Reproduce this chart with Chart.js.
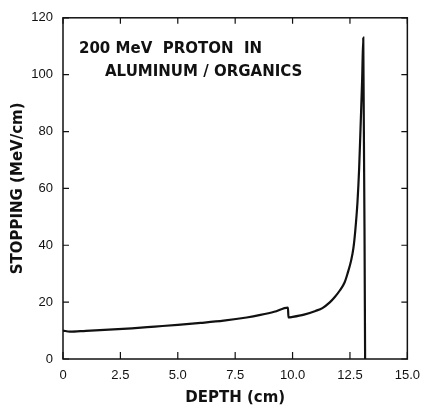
<!DOCTYPE html>
<html>
<head>
<meta charset="utf-8">
<script src="https://cdn.jsdelivr.net/npm/chart.js@4.4.1/dist/chart.umd.min.js"></script>
<style>
  html, body { margin: 0; padding: 0; background: #fff; }
  #wrap { width: 429px; height: 409px; }
</style>
</head>
<body>
<div id="wrap"><canvas id="stopChart"></canvas></div>
<script>
/* Bragg curve: 200 MeV proton in aluminum / organics */
const depthCm     = [0, 0.3, 1, 2, 3, 4, 5, 6, 7, 8, 8.6, 9.2, 9.8, 9.82, 10, 10.5, 11, 11.3, 11.62, 11.84, 12.05, 12.27, 12.4, 12.55, 12.65, 12.73, 12.83, 12.9, 12.97, 13.03, 13.08, 13.16];
const stoppingMeV = [10, 9.6, 9.9, 10.3, 10.8, 11.4, 12.0, 12.7, 13.5, 14.6, 15.5, 16.6, 18.1, 14.6, 14.8, 15.6, 16.9, 17.9, 19.9, 21.8, 24.0, 27.0, 30.2, 34.6, 39, 45, 55.5, 67, 83.4, 98, 113, 0];

const xTicks = [0, 2.5, 5, 7.5, 10, 12.5, 15];
const yTicks = [0, 20, 40, 60, 80, 100, 120];
const noteLines = ['200 MeV  PROTON  IN', 'ALUMINUM / ORGANICS'];

const INK = '#111';

/** Box around plot area plus inward tick marks on all four sides */
const frameTicks = {
  id: 'frameTicks',
  afterDraw(chart) {
    const { ctx, chartArea: a, scales: { x, y } } = chart;
    ctx.save();
    ctx.strokeStyle = INK;
    ctx.lineWidth = 1.5;
    ctx.strokeRect(a.left, a.top, a.right - a.left, a.bottom - a.top);
    ctx.lineWidth = 1.2;
    ctx.beginPath();
    xTicks.forEach(v => {
      const px = x.getPixelForValue(v);
      ctx.moveTo(px, a.bottom); ctx.lineTo(px, a.bottom - 7);
      ctx.moveTo(px, a.top);    ctx.lineTo(px, a.top + 6);
    });
    yTicks.forEach(v => {
      const py = y.getPixelForValue(v);
      ctx.moveTo(a.left, py);  ctx.lineTo(a.left + 6, py);
      ctx.moveTo(a.right, py); ctx.lineTo(a.right - 6, py);
    });
    ctx.stroke();

    ctx.fillStyle = INK;
    ctx.font = 'bold 15px "DejaVu Sans"';
    ctx.textBaseline = 'middle';
    ctx.fillText(noteLines[0], 79, 49);
    ctx.fillText(noteLines[1], 105, 72);
    ctx.restore();
  }
};

new Chart(document.getElementById('stopChart'), {
  type: 'line',
  data: {
    datasets: [{
      data: depthCm.map((d, i) => ({ x: d, y: stoppingMeV[i] })),
      borderColor: INK,
      borderWidth: 2.2,
      pointRadius: 0,
      cubicInterpolationMode: 'monotone',
      fill: false
    }]
  },
  options: {
    responsive: true,
    maintainAspectRatio: false,
    animation: false,
    layout: { padding: { left: 0, top: 15, right: 11, bottom: 0 } },
    plugins: { legend: { display: false }, tooltip: { enabled: false } },
    scales: {
      x: {
        type: 'linear', min: 0, max: 15,
        afterFit: s => { s.height = 50; },
        afterBuildTicks: s => { s.ticks = xTicks.map(v => ({ value: v })); },
        grid: { display: false, drawTicks: false },
        border: { display: false },
        ticks: {
          color: INK, padding: 9,
          font: { family: '"Liberation Sans"', size: 13 },
          callback: v => v === 0 ? '0' : v.toFixed(1)
        },
        title: {
          display: true, text: 'DEPTH (cm)', color: INK,
          font: { family: '"DejaVu Sans"', size: 15, weight: 'bold' },
          padding: { top: 0, bottom: 2 }
        }
      },
      y: {
        min: 0, max: 120,
        afterFit: s => { s.width = 63; },
        afterBuildTicks: s => { s.ticks = yTicks.map(v => ({ value: v })); },
        grid: { display: false, drawTicks: false },
        border: { display: false },
        ticks: {
          color: INK, padding: 10,
          font: { family: '"Liberation Sans"', size: 13 }
        },
        title: {
          display: true, text: 'STOPPING (MeV/cm)', color: INK,
          font: { family: '"DejaVu Sans"', size: 15, weight: 'bold' },
          padding: { top: 9, bottom: 0 }
        }
      }
    }
  },
  plugins: [frameTicks]
});
</script>
</body>
</html>
